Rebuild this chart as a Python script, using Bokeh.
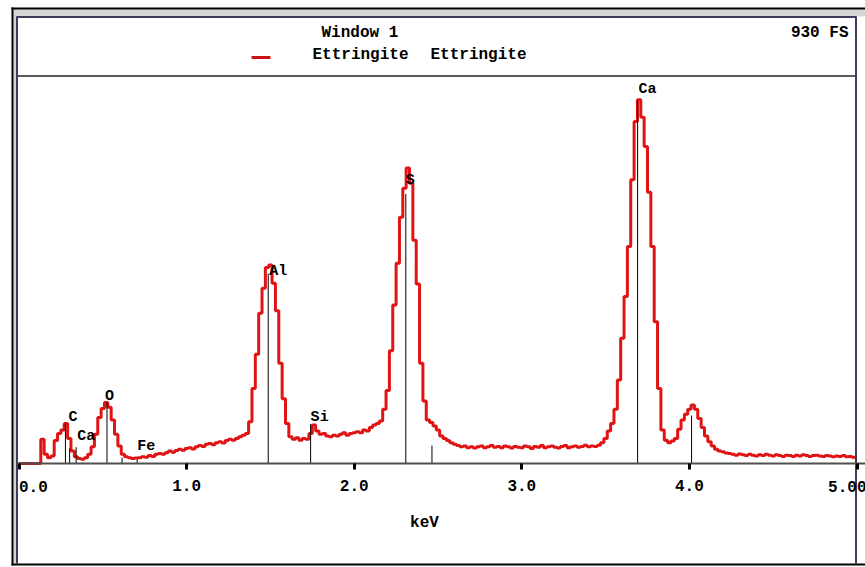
from bokeh.plotting import figure
from bokeh.models import Range1d, LinearAxis, FixedTicker, Label, ColumnDataSource
from bokeh.core.properties import value
from bokeh.embed import file_html
from bokeh.resources import INLINE

# ---------------- data ----------------
channel_width_kev = 0.02
# counts per 0.02 keV channel, 0.00 ... 5.00 keV
counts = [
    0, 0, 0, 0, 0, 0, 0, 58, 22, 14,            # 0.00-0.18
    18, 55, 72, 80, 96, 60, 30, 16, 12, 10,     # 0.20-0.38
    14, 22, 40, 70, 110, 132, 146, 135, 104, 70,  # 0.40-0.58
    42, 22, 16, 14, 12, 13, 14, 16, 15, 19,     # 0.60-0.78
    17, 22, 24, 22, 26, 30, 27, 31, 34, 32,     # 0.80-0.98
    36, 38, 35, 40, 43, 41, 46, 48, 45, 50,     # 1.00-1.18
    52, 49, 55, 58, 56, 60, 64, 68, 72, 100,    # 1.20-1.38
    180, 262, 360, 420, 470, 476, 432, 366, 240, 155,  # 1.40-1.58
    96, 64, 58, 62, 56, 60, 58, 72, 92, 78,     # 1.60-1.78
    70, 72, 66, 64, 68, 66, 70, 74, 68, 72,     # 1.80-1.98
    74, 76, 74, 80, 78, 86, 92, 96, 102, 130,   # 2.00-2.18
    175, 270, 380, 480, 590, 660, 708, 672, 535, 430,  # 2.20-2.38
    240, 150, 104, 98, 90, 80, 66, 60, 55, 50,  # 2.40-2.58
    46, 43, 40, 42, 38, 40, 37, 40, 42, 38,     # 2.60-2.78
    40, 43, 39, 41, 38, 42, 40, 37, 41, 39,     # 2.80-2.98
    38, 42, 40, 36, 41, 39, 43, 38, 40, 42,     # 3.00-3.18
    39, 37, 41, 43, 38, 40, 42, 39, 41, 44,     # 3.20-3.38
    40, 42, 41, 44, 50, 60, 78, 96, 130, 200,   # 3.40-3.58
    300, 400, 520, 680, 820, 872, 830, 760, 650, 520,  # 3.60-3.78
    340, 180, 80, 56, 50, 54, 60, 82, 104, 118,  # 3.80-3.98
    130, 140, 130, 108, 86, 66, 52, 42, 34, 30,  # 4.00-4.18
    28, 25, 24, 22, 20, 23, 21, 19, 22, 20,     # 4.20-4.38
    18, 21, 19, 22, 20, 18, 21, 19, 17, 20,     # 4.40-4.58
    19, 17, 20, 18, 21, 19, 17, 19, 20, 18,     # 4.60-4.78
    17, 19, 18, 16, 18, 17, 19, 16, 17, 15,     # 4.80-4.98
    12,                                         # 5.00
]
energy_kev = [round(i * channel_width_kev, 2) for i in range(len(counts))]

# element marker lines (keV, height in counts)
marker_energy = [0.277, 0.302, 0.341, 0.525, 0.615, 0.705, 1.487, 1.740, 2.308, 2.464, 3.691, 4.013]
marker_height = [96, 36, 39, 146, 14, 10, 455, 95, 646, 43, 870, 115]

# element labels
label_text = ["C", "Ca", "O", "Fe", "Al", "Si", "S", "Ca"]
label_energy = [0.277, 0.341, 0.525, 0.705, 1.487, 1.740, 2.308, 3.691]

tick_values = [0, 1, 2, 3, 4, 5]
tick_labels = ["0.0", "1.0", "2.0", "3.0", "4.0", "5.00"]
title_text = "Window 1"
series_names = ["Ettringite", "Ettringite"]
full_scale_text = "930 FS"
full_scale = 930
x_label = "keV"

# ---------------- layout helpers (page pixels -> data) ----------------
W, H = 865, 567
X0, KX = 18.5, 167.6                # page x of 0 keV, px per keV
Y0, KY = 463.0, 388.0 / full_scale  # page y of 0 counts, px per count


def ex(px):
    return (px - X0) / KX


def cy(py):
    return (Y0 - py) / KY


FONT = "Liberation Mono"
RED = "#e01414"

p = figure(width=W, height=H, output_backend="svg", toolbar_location=None,
           x_range=Range1d(ex(0), ex(W)), y_range=Range1d(cy(H), cy(0)),
           x_axis_type=None, y_axis_type=None, min_border=0)
p.outline_line_color = None
p.background_fill_color = "white"
p.border_fill_color = "white"

# gray frame bands
p.quad(left=[ex(13), ex(13)], right=[ex(W), ex(16)],
       top=[cy(9), cy(9)], bottom=[cy(16), cy(563)],
       fill_color="#d6d6d6", line_color=None)

# spectrum
src = ColumnDataSource(dict(e=energy_kev, c=counts))
p.step(x="e", y="c", source=src, mode="center", line_color=RED, line_width=3)

# element marker lines
p.segment(x0=marker_energy, y0=[0] * len(marker_energy), x1=marker_energy, y1=marker_height,
          line_color="black", line_width=1)

# element labels (label centre placed in pixels above the axis)
label_cy_px = [417, 436, 396, 446, 271, 417, 180, 89]
dx = [3, 1, -2, 0, 1, 0, 0, 1]
lsrc = ColumnDataSource(dict(x=label_energy, y=[cy(v) for v in label_cy_px], t=label_text, dx=dx))
p.text(x="x", y="y", text="t", x_offset="dx", source=lsrc,
       text_font=value(FONT), text_font_style="bold", text_font_size="15px",
       text_align="left", text_baseline="middle", text_color="black")

# x axis at zero counts
ax = LinearAxis(fixed_location=0, ticker=FixedTicker(ticks=tick_values),
                bounds=(ex(17), ex(W)),
                major_label_overrides={t: (lab if 0 < i < len(tick_values) - 1 else "")
                                       for i, (t, lab) in enumerate(zip(tick_values, tick_labels))},
                axis_line_color="#505050", axis_line_width=2,
                major_tick_in=0, major_tick_out=6, major_tick_line_width=3,
                major_tick_line_color="black", minor_tick_line_color=None,
                major_label_text_font=FONT, major_label_text_font_style="bold",
                major_label_text_font_size="16px", major_label_standoff=10,
                major_label_text_color="black")
p.add_layout(ax, "below")


def add_text(px, py, txt, align):
    p.add_layout(Label(x=ex(px), y=cy(py), text=txt, text_align=align,
                       text_baseline="middle", text_font=FONT, text_font_style="bold",
                       text_font_size="16px", text_color="black"))


# end tick labels (kept inside the box like the reference)
add_text(18.5, 486, tick_labels[0], "left")
add_text(866, 486, tick_labels[-1], "right")
# axis title
add_text(424, 522, x_label, "center")
# header texts
add_text(321, 32, title_text, "left")
add_text(848, 32, full_scale_text, "right")
add_text(312, 54, series_names[0], "left")
add_text(430, 54, series_names[1], "left")

# legend swatch
p.segment(x0=[ex(251)], y0=[cy(57)], x1=[ex(270)], y1=[cy(57)], line_color="#cc1111", line_width=3)

# header separator
p.segment(x0=[ex(16)], y0=[cy(75.5)], x1=[ex(856)], y1=[cy(75.5)], line_color="#5a5a5a", line_width=2)

# inner navy border
p.segment(x0=[ex(16), ex(16.5), ex(855.5)], y0=[cy(16.5), cy(16), cy(16)],
          x1=[ex(856), ex(16.5), ex(855.5)], y1=[cy(16.5), cy(563), cy(563)],
          line_color="#3c3c5c", line_width=2)

# outer black border
p.segment(x0=[ex(11), ex(12), ex(11)], y0=[cy(8), cy(7), cy(564)],
          x1=[ex(W), ex(12), ex(W)], y1=[cy(8), cy(565), cy(564)],
          line_color="black", line_width=2)

open("out.html", "w").write(file_html(p, INLINE))
